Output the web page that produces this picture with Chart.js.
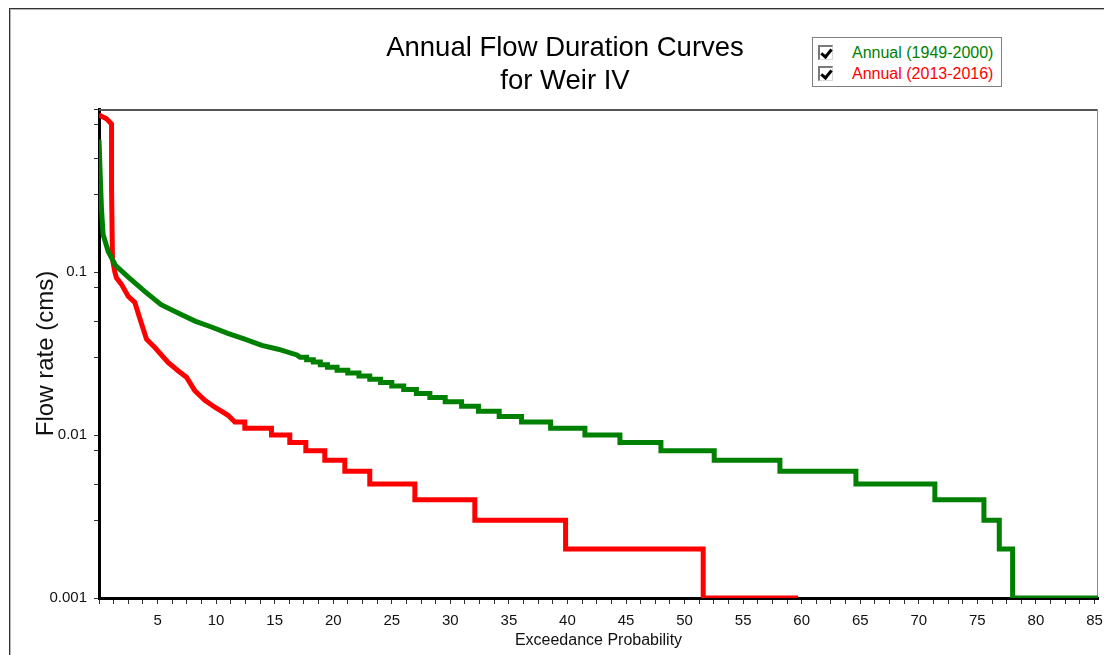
<!DOCTYPE html>
<html>
<head>
<meta charset="utf-8">
<title>Annual Flow Duration Curves for Weir IV</title>
<script src="https://cdn.jsdelivr.net/npm/chart.js@4.4.1/dist/chart.umd.min.js"></script>
<style>
  html, body { margin: 0; padding: 0; background: #fff; overflow: hidden; }
  #wrap { position: relative; width: 1104px; height: 655px; overflow: hidden; background: #fff; }
  #frame { position: absolute; left: 9px; top: 8px; width: 1200px; height: 800px;
           border-left: 1px solid #333; border-top: 1px solid #333; box-shadow: inset 1px 1px 0 #b5b5b5; }
  #chart { position: absolute; left: 0; top: 0; }
  #legend { position: absolute; left: 812px; top: 37px; width: 190px; height: 50px; box-sizing: border-box;
            border: 1px solid #808080; background: #fff;
            font-family: 'Liberation Sans', Arial, sans-serif; font-size: 16px; }
  .item { position: absolute; left: 0; width: 100%; height: 18px; line-height: 18px; white-space: nowrap; }
  .box { position: absolute; left: 5px; top: 1px; width: 15px; height: 15px; box-sizing: border-box;
         border-top: 2px solid #7a7a7a; border-left: 2px solid #7a7a7a;
         border-right: 1px solid #d8d8d8; border-bottom: 1px solid #d8d8d8; }
  .box::after { content: ''; position: absolute; left: 3px; top: 0px; width: 4px; height: 8px;
                border-right: 3px solid #000; border-bottom: 3px solid #000; transform: rotate(40deg); }
  .label { position: absolute; left: 39px; top: 0; }
</style>
</head>
<body>
<div id="wrap">
  <div id="frame"></div>
  <canvas id="chart" width="1104" height="655"></canvas>
  <div id="legend">
    <div class="item" style="top:6px"><span class="box"></span><span class="label" id="lg0"></span></div>
    <div class="item" style="top:27px"><span class="box"></span><span class="label" id="lg1"></span></div>
  </div>
</div>
<script>
const titleLines = ['Annual Flow Duration Curves', 'for Weir IV'];
const seriesNames = ['Annual (1949-2000)', 'Annual (2013-2016)'];
const seriesColors = ['#008000', '#ff0000'];

// Annual (1949-2000): continuous upper part, then 0.001-cms steps (level start x, level value)
const greenSmoothX = [0, 0.1, 0.21, 0.35, 0.78, 1.4, 2.5, 3.9, 5.3, 6.75, 8.2, 9.6, 11.0, 12.45, 13.9, 15.3, 16.9];
const greenSmoothY = [0.65, 0.40, 0.245, 0.17, 0.134, 0.11, 0.093, 0.076, 0.063, 0.056, 0.050, 0.046, 0.042, 0.0387, 0.0355, 0.0336, 0.031];
const greenLevelX = [17.17, 17.73, 18.3, 18.9, 19.51, 20.33, 21.24, 22.2, 23.12, 24.04, 25.0, 26.02, 27.1, 28.25,
                     29.56, 30.96, 32.4, 34.17, 36.08, 38.56, 41.49, 44.48, 47.98, 52.53, 58.14, 64.63, 71.37,
                     75.56, 76.87, 78.01];
const greenLevelY = [0.030, 0.029, 0.028, 0.027, 0.026, 0.025, 0.024, 0.023, 0.022, 0.021, 0.020, 0.019, 0.018, 0.017,
                     0.016, 0.015, 0.014, 0.013, 0.012, 0.011, 0.010, 0.009, 0.008, 0.007, 0.006, 0.005, 0.004,
                     0.003, 0.002, 0.001];
const greenEndX = 85.3;

// Annual (2013-2016)
const redSmoothX = [0, 0.64, 1.07, 1.07, 1.15, 1.35, 1.49, 1.92, 2.49, 3.06, 3.48, 4.06, 4.77, 5.9, 6.75, 7.47, 8.18, 9.04, 9.89, 11.02];
const redSmoothY = [0.92, 0.87, 0.81, 0.325, 0.12, 0.1, 0.092, 0.084, 0.071, 0.065, 0.052, 0.0387, 0.0344, 0.0279, 0.0248, 0.0226, 0.0187, 0.0163, 0.0148, 0.0132];
const redLevelX = [11.6, 12.45, 14.73, 16.29, 17.66, 19.28, 20.99, 23.12, 26.97, 32.09, 39.84, 51.59];
const redLevelY = [0.012, 0.011, 0.010, 0.009, 0.008, 0.007, 0.006, 0.005, 0.004, 0.003, 0.002, 0.001];
const redEndX = 59.7;

const yTickValues = [0.001, 0.003, 0.005, 0.008, 0.01, 0.03, 0.05, 0.08, 0.1, 0.3, 0.5, 0.8, 1];
const yTickLabels = ['0.001', '', '', '', '0.01', '', '', '', '0.1', '', '', '', ''];
const xMin = 0, xMax = 85.3, xMinorStep = 1.25, xLabelStep = 5;

function buildCurve(sx, sy, lx, ly, endX) {
    const pts = sx.map((x, i) => ({ x: x, y: sy[i] }));
    lx.forEach((x, i) => {
        const next = i + 1 < lx.length ? lx[i + 1] : endX;
        pts.push({ x: x, y: ly[i] }, { x: next, y: ly[i] });
    });
    return pts;
}

document.getElementById('lg0').textContent = seriesNames[0];
document.getElementById('lg0').style.color = seriesColors[0];
document.getElementById('lg1').textContent = seriesNames[1];
document.getElementById('lg1').style.color = seriesColors[1];

// grey top/right edges of the plot box
const plotFrame = {
    id: 'plotFrame',
    beforeDatasetsDraw(chart) {
        const { ctx, chartArea: a } = chart;
        ctx.save();
        ctx.strokeStyle = '#555';
        ctx.lineWidth = 2;
        ctx.beginPath();
        ctx.moveTo(a.left, a.top + 1);
        ctx.lineTo(a.right, a.top + 1);
        ctx.stroke();
        ctx.strokeStyle = '#8a8a8a';
        ctx.lineWidth = 1;
        ctx.beginPath();
        ctx.moveTo(a.right - 0.5, a.top);
        ctx.lineTo(a.right - 0.5, a.bottom);
        ctx.stroke();
        ctx.restore();
    }
};

Chart.defaults.font.family = "'Liberation Sans', Arial, sans-serif";

new Chart(document.getElementById('chart'), {
    type: 'line',
    data: {
        datasets: [
            {
                label: seriesNames[0],
                data: buildCurve(greenSmoothX, greenSmoothY, greenLevelX, greenLevelY, greenEndX),
                borderColor: seriesColors[0],
                borderWidth: 5,
                pointRadius: 0,
                tension: 0,
                borderJoinStyle: 'miter',
                fill: false
            },
            {
                label: seriesNames[1],
                data: buildCurve(redSmoothX, redSmoothY, redLevelX, redLevelY, redEndX),
                borderColor: seriesColors[1],
                borderWidth: 5,
                pointRadius: 0,
                tension: 0,
                borderJoinStyle: 'miter',
                fill: false
            }
        ]
    },
    options: {
        responsive: false,
        animation: false,
        events: [],
        layout: { padding: { left: 32, right: 6, top: 0, bottom: 0 } },
        plugins: {
            legend: { display: false },
            tooltip: { enabled: false },
            title: {
                display: true,
                text: titleLines,
                color: '#000',
                font: { size: 27.5, weight: 'normal' },
                padding: { top: 32, bottom: 11 }
            }
        },
        scales: {
            x: {
                type: 'linear',
                min: xMin,
                max: xMax,
                border: { display: true, color: '#000', width: 3 },
                grid: { drawOnChartArea: false, tickLength: 6, tickColor: '#333' },
                ticks: {
                    stepSize: xMinorStep,
                    includeBounds: false,
                    autoSkip: false,
                    maxRotation: 0,
                    padding: 8,
                    color: '#111',
                    font: { size: 15 },
                    callback: function(value) {
                        const k = value / xLabelStep;
                        return (value > 0 && Math.abs(k - Math.round(k)) < 1e-6) ? String(Math.round(value)) : '';
                    }
                },
                title: {
                    display: true,
                    text: 'Exceedance Probability',
                    color: '#111',
                    font: { size: 16 },
                    padding: { top: 0, bottom: 5 }
                },
                afterFit: scale => {
                    scale.height = 57;
                    scale.paddingLeft = 0;
                    scale.paddingRight = 0;
                }
            },
            y: {
                type: 'logarithmic',
                min: 0.001,
                max: 1,
                border: { display: true, color: '#000', width: 3 },
                grid: { drawOnChartArea: false, tickLength: 5, tickColor: '#333' },
                afterBuildTicks: scale => { scale.ticks = yTickValues.map(v => ({ value: v })); },
                ticks: {
                    autoSkip: false,
                    padding: 7,
                    color: '#111',
                    font: { size: 15 },
                    callback: (value, index) => yTickLabels[index]
                },
                title: {
                    display: true,
                    text: 'Flow rate (cms)',
                    color: '#111',
                    font: { size: 24 },
                    padding: { top: 0, bottom: 0 }
                },
                afterFit: scale => { scale.width = 67; }
            }
        }
    },
    plugins: [plotFrame]
});
</script>
</body>
</html>
